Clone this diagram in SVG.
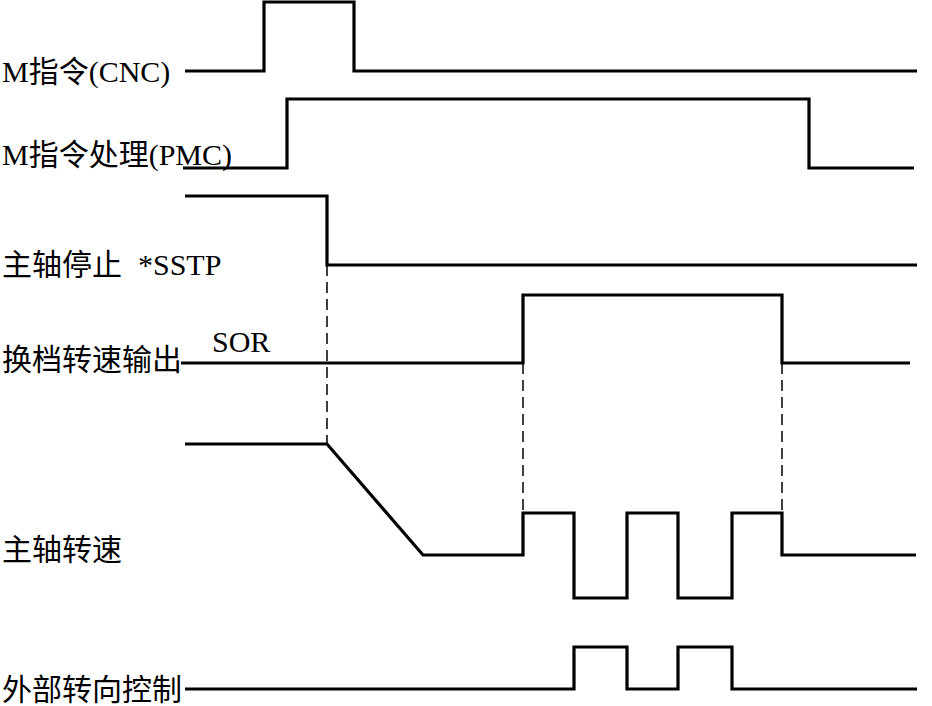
<svg xmlns="http://www.w3.org/2000/svg" width="932" height="706" viewBox="0 0 932 706">
<style>
.sig{fill:none;stroke:#000;stroke-width:3.2;stroke-linejoin:miter;stroke-linecap:butt}
.dash{fill:none;stroke:#000;stroke-width:1.5;stroke-dasharray:11 6}
.lbl{font-family:"Liberation Serif","Noto Sans CJK SC",serif;font-size:30px;fill:#000}
</style>
<rect width="932" height="706" fill="#fff"/>
<g id="connectors">
<path class="dash" d="M327 265 V444"/>
<path class="dash" d="M523 363 V513"/>
<path class="dash" d="M782 363 V513"/>
</g>
<g id="m-cnc">
<text class="lbl" x="2" y="82">M指令(CNC)</text>
<path class="sig" d="M185 71 H264 V2 H354 V71 H917"/>
</g>
<g id="m-pmc">
<text class="lbl" x="2" y="165">M指令处理(PMC)</text>
<path class="sig" d="M183 168 H287 V99 H809 V168 H914"/>
</g>
<g id="sstp">
<text class="lbl" x="2" y="275">主轴停止 <tspan x="138">*SSTP</tspan></text>
<path class="sig" d="M185 196 H327 V265 H917"/>
</g>
<g id="sor">
<text class="lbl" x="2" y="370">换档转速输出</text>
<text class="lbl" x="212" y="352">SOR</text>
<path class="sig" d="M181 363 H523 V295 H782 V363 H910"/>
</g>
<g id="speed">
<text class="lbl" x="2" y="560">主轴转速</text>
<path class="sig" d="M185 444 H327 L423 555 H523 V513 H574 V598 H627 V513 H678 V598 H732 V513 H782 V555 H916"/>
</g>
<g id="dir">
<text class="lbl" x="2" y="700">外部转向控制</text>
<path class="sig" d="M185 689 H574 V647 H627 V689 H678 V647 H732 V689 H917"/>
</g>
</svg>
